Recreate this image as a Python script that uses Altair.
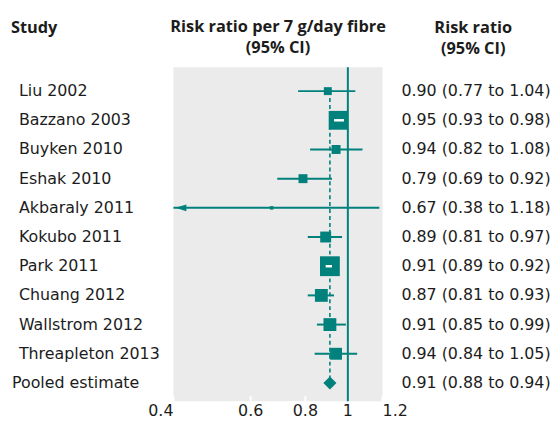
import altair as alt
import pandas as pd

# ---- data ----
studies = ["Liu 2002", "Bazzano 2003", "Buyken 2010", "Eshak 2010", "Akbaraly 2011",
           "Kokubo 2011", "Park 2011", "Chuang 2012", "Wallstrom 2012", "Threapleton 2013"]
rr = [0.90, 0.95, 0.94, 0.79, 0.67, 0.89, 0.91, 0.87, 0.91, 0.94]
lo = [0.77, 0.93, 0.82, 0.69, 0.38, 0.81, 0.89, 0.81, 0.85, 0.84]
hi = [1.04, 0.98, 1.08, 0.92, 1.18, 0.97, 0.92, 0.93, 0.99, 1.05]
weight = [4.0, 22.5, 5.1, 5.1, 0.8, 7.6, 25.0, 10.5, 10.5, 9.0]   # % weight (box area)
pooled_label = "Pooled estimate"
pooled_rr = [0.91]
pooled_lo = [0.88]
pooled_hi = [0.94]
x_ticks = [0.4, 0.6, 0.8, 1, 1.2]
null_value = [1]

# ---- styling ----
TEAL = "#00817c"
TEXT = "#1c1c1c"
FONT = "DejaVu Sans"
TFONT = "Open Sans"
H = 337

def fmt(r, l, h):
    return f"{r:.2f} ({l:.2f} to {h:.2f})"

df = pd.DataFrame({"study": studies, "rr": rr, "lo": lo, "hi": hi, "w": weight})
df["label"] = [fmt(r, l, h) for r, l, h in zip(rr, lo, hi)]
pool = pd.DataFrame({"study": [pooled_label], "rr": pooled_rr, "lo": pooled_lo,
                     "hi": pooled_hi, "top": [studies[0]]})
pool["label"] = [fmt(r, l, h) for r, l, h in zip(pooled_rr, pooled_lo, pooled_hi)]
rows_df = pd.concat([df, pool], ignore_index=True)
ticks_df = pd.DataFrame({"t": x_ticks})
null_df = pd.DataFrame({"v": null_value})

rows = studies + [pooled_label]
yscale = alt.Scale(domain=rows, type="point", padding=0, range=[24, H - 18.5])
Y = alt.Y("study:N", scale=yscale, axis=None)
xmin, xmax = min(x_ticks), max(x_ticks)
xscale = alt.Scale(type="log", domain=[xmin, xmax], clamp=True, nice=False)

def X(field):
    return alt.X(field, scale=xscale, axis=None)

def title(lines, anchor, dx=0):
    return alt.TitleParams(text=lines, anchor=anchor, frame="group", dx=dx, fontSize=16.5,
                           fontWeight="bold", font=TFONT, color=TEXT, lineHeight=21, offset=10)

txt = dict(baseline="middle", fontSize=16, font=FONT, color=TEXT)

# ---- left column: study names ----
left_base = alt.Chart(rows_df)
left = alt.layer(
    left_base.transform_filter(alt.datum.study != pooled_label).mark_text(align="left", **txt)
    .encode(x=alt.value(11), y=Y, text="study:N"),
    left_base.transform_filter(alt.datum.study == pooled_label).mark_text(align="left", **txt)
    .encode(x=alt.value(4), y=Y, text="study:N"),
).properties(width=167, height=H, title=title(["Study", " "], "start", dx=3))

# ---- middle: forest plot ----
tick_labels = alt.Chart(ticks_df)
label_y = alt.value(H + 10)
axis_mid = tick_labels.transform_filter(f"datum.t > {xmin} && datum.t < {xmax}").mark_text(
    align="center", **txt).encode(x=X("t:Q"), y=label_y, text=alt.Text("t:Q", format="~g"))
axis_lo = tick_labels.transform_filter(f"datum.t <= {xmin}").mark_text(
    align="right", **txt).encode(x=X("t:Q"), y=label_y, text=alt.Text("t:Q", format="~g"))
axis_hi = tick_labels.transform_filter(f"datum.t >= {xmax}").mark_text(
    align="left", **txt).encode(x=X("t:Q"), y=label_y, text=alt.Text("t:Q", format="~g"))

white_ticks = tick_labels.mark_rule(color="white", strokeWidth=2).encode(
    x=X("t:Q"), y=alt.value(H - 5), y2=alt.value(H))

null_line = alt.Chart(null_df).mark_rule(color=TEAL, strokeWidth=2).encode(
    x=X("v:Q"), y=alt.value(0), y2=alt.value(H))

dashed = alt.Chart(pool).mark_rule(color=TEAL, strokeWidth=1.6, strokeDash=[4, 3]).encode(
    x=X("rr:Q"), y=alt.Y("top:N", scale=yscale, axis=None), y2="study:N")

ci = alt.Chart(df).mark_rule(color=TEAL, strokeWidth=2).encode(
    x=X("lo:Q"), x2="hi:Q", y=Y)

arrow_path = "M -1 0 L 1 -0.62 L 1 0.62 Z"
arrow = alt.Chart(df).transform_filter(f"datum.lo < {xmin}").mark_point(
    shape=arrow_path, filled=True, size=121, xOffset=7.5, color=TEAL, opacity=1, strokeWidth=0
).encode(x=X("lo:Q"), y=Y)

boxes = alt.Chart(df).mark_square(color=TEAL, opacity=1).encode(
    x=X("rr:Q"), y=Y,
    size=alt.Size("w:Q", scale=alt.Scale(domain=[0, 25], range=[0, 400]), legend=None))

inner = alt.Chart(df).transform_filter("datum.hi / datum.lo < 1.06").mark_rule(
    color="white", strokeWidth=2.5).encode(x=X("lo:Q"), x2="hi:Q", y=Y)

diamond = alt.Chart(pool).mark_point(shape="diamond", filled=True, size=175, color=TEAL,
                                     opacity=1, strokeWidth=0).encode(x=X("rr:Q"), y=Y)

middle = alt.layer(white_ticks, null_line, dashed, ci, arrow, boxes, inner, diamond,
                   axis_mid, axis_lo, axis_hi).properties(
    width=211, height=H,
    view=alt.ViewBackground(fill="#ebebeb", strokeWidth=0),
    title=title(["Risk ratio per 7 g/day fibre", "(95% CI)"], "middle"))

# ---- right column: numbers ----
right = alt.Chart(rows_df).mark_text(align="left", **txt).encode(
    x=alt.value(19), y=Y, text="label:N").properties(
    width=165, height=H, title=title(["Risk ratio", "(95% CI)"], "middle", dx=9))

chart = alt.hconcat(left, middle, right, spacing=0, bounds="flush").properties(
    padding={"top": 9, "left": 0, "right": 0, "bottom": -2}
).configure_view(strokeWidth=0)

chart.save("out.html", embed_options={"renderer": "svg", "actions": False})
